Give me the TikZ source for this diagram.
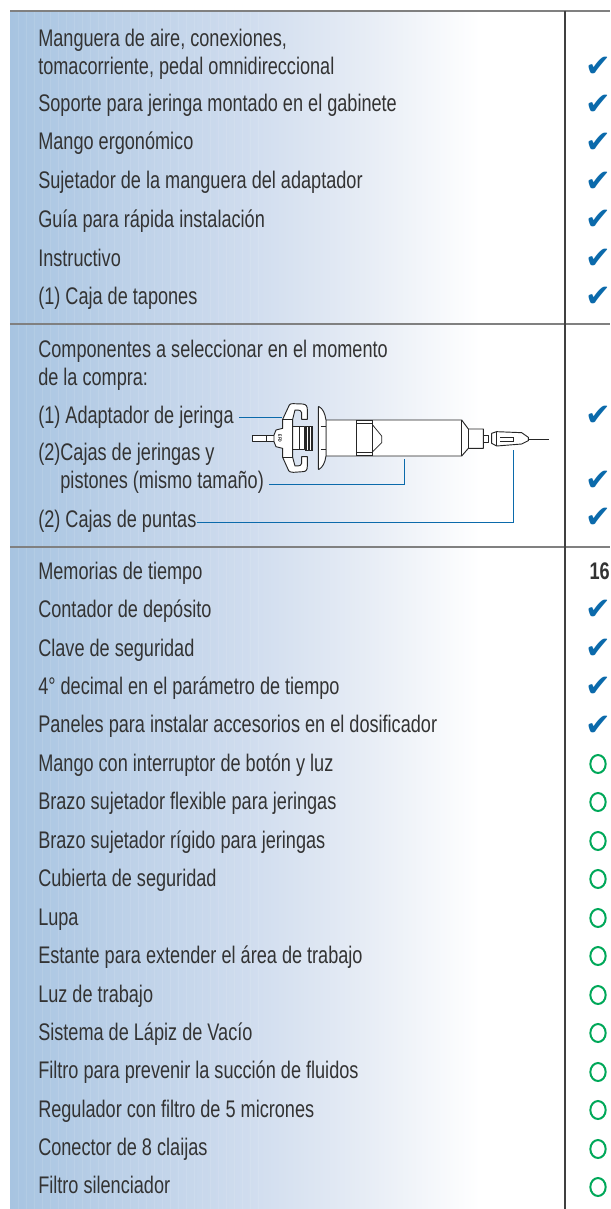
\documentclass[tikz,border=0pt]{standalone}
\usepackage{fontspec}
\setmainfont[FakeStretch=0.755]{Liberation Sans}
\newfontfamily\chkfont{DejaVu Sans}
\usetikzlibrary{shapes.geometric}
\definecolor{txtc}{HTML}{333333}
\definecolor{bluec}{HTML}{0B6AAB}
\definecolor{greenc}{HTML}{00A859}
\definecolor{rulec}{HTML}{808080}
\definecolor{panA}{HTML}{A7C4E1}
\definecolor{panB}{HTML}{BDD1E8}
\definecolor{panC}{HTML}{CFDCEE}
\definecolor{panD}{HTML}{E6ECF5}
\pgfdeclarehorizontalshading{panelshade}{100bp}{
 color(0bp)=(panA); color(25bp)=(panA); color(37.5bp)=(panB); color(50bp)=(panC); color(62.5bp)=(panD); color(75bp)=(white); color(100bp)=(white)}
\tikzset{
 rowlabel/.style={anchor=base west,inner sep=0pt,text=txtc,font=\fontsize{18}{21}\selectfont,align=left},
 checkmark/.style={inner sep=0pt,text=bluec,font=\chkfont\fontsize{23}{23}\selectfont},
 optmark/.style={draw=greenc,line width=1.5pt,ellipse,minimum width=11.5pt,minimum height=13.5pt,inner sep=0pt},
 leader/.style={draw=bluec,line width=0.75pt},
 rulegray/.style={draw=rulec,line width=1pt},
 part/.style={draw=black!85,line width=0.7pt,fill=white,line join=round},
 partline/.style={draw=black!85,line width=0.55pt},
}
\begin{document}
\begin{tikzpicture}[x=0.75pt,y=-0.75pt]
\useasboundingbox (0,0) rectangle (610,1209);
\shade[shading=panelshade] (10,11) rectangle (480,1209);
\foreach \sx in {18,26,...,260}{\draw[white,opacity=0.10,line width=0.5pt] (\sx,11) -- (\sx,1209);}
% rules
\draw[rulegray] (10,11) -- (610,11);
\draw[rulegray] (10,324) -- (610,324);
\draw[rulegray] (10,547) -- (610,547);
\draw[draw=black!75,line width=0.9pt] (565,11) -- (565,1209);
% section 1
\node[rowlabel] (r1) at (38,75) {Manguera de aire, conexiones,\\tomacorriente, pedal omnidireccional};
\node[rowlabel] (r2) at (38,112) {Soporte para jeringa montado en el gabinete};
\node[rowlabel] (r3) at (38,150) {Mango ergonómico};
\node[rowlabel] (r4) at (38,189) {Sujetador de la manguera del adaptador};
\node[rowlabel] (r5) at (38,227) {Guía para rápida instalación};
\node[rowlabel] (r6) at (38,266) {Instructivo};
\node[rowlabel] (r7) at (38,304) {(1) Caja de tapones};
% section 2
\node[rowlabel] (s1) at (38,385) {Componentes a seleccionar en el momento\\de la compra:};
\node[rowlabel] (s2) at (38,423) {(1) Adaptador de jeringa};
\node[rowlabel] (s3) at (38,488) {(2)Cajas de jeringas y\\\hphantom{(2)}pistones (mismo tamaño)};
\node[rowlabel] (s4) at (38,527) {(2) Cajas de puntas};
% section 3
\foreach \i/\yy/\t in {1/579/Memorias de tiempo,2/617/Contador de depósito,3/656/Clave de seguridad,4/694/4° decimal en el parámetro de tiempo,5/732/Paneles para instalar accesorios en el dosificador,6/771/Mango con interruptor de botón y luz,7/809/Brazo sujetador flexible para jeringas,8/848/Brazo sujetador rígido para jeringas,9/886/Cubierta de seguridad,10/925/Lupa,11/963/Estante para extender el área de trabajo,12/1002/Luz de trabajo,13/1040/Sistema de Lápiz de Vacío,14/1078/Filtro para prevenir la succión de fluidos,15/1117/Regulador con filtro de 5 micrones,16/1155/Conector de 8 claijas,17/1193/Filtro silenciador}{
 \node[rowlabel] (t\i) at (38,\yy) {\t};
}
% marks
\foreach \i/\yy in {a/67,b/105,c/143,d/182,e/220,f/259,g/297,h/416,j/481,k/518,l/610,m/649,n/687,o/726}{
 \node[checkmark] (c\i) at (598,\yy) {✔};
}
\node[anchor=base east,inner sep=0pt,text=txtc,font=\bfseries\fontsize{18}{21}\selectfont] (c16) at (610,579) {16};
\foreach \i/\yy in {6/764,7/802,8/841,9/879,10/918,11/956,12/995,13/1033,14/1072,15/1110,16/1149,17/1187}{
 \node[optmark] (o\i) at (598,\yy) {};
}
% syringe (coordinates are those of a 3x crop at 200,380)
\begin{scope}[shift={(200,380)},x=0.25pt,y=-0.25pt]
 % tube
 \draw[part] (158,165) rectangle (222,185);
 \draw[partline] (198,165) -- (198,185);
 % needle
 \draw[draw=black!85,line width=0.7pt] (985,177) -- (1048,177);
 % stem behind the adapter
 \draw[part] (270,140) rectangle (312,208);
 \draw[partline] (298,140) -- (298,208);
 \fill[black!85] (315,137) rectangle (340,212);
 \fill[white] (321,140) rectangle (324,209);
 \fill[white] (331,140) rectangle (333,209);
 % adapter: upper hook, wings, lower hook
 \draw[part] (222,165) -- (228,150) -- (248,145) -- (248,118) -- (268,75) .. controls (270,71) and (275,71) .. (280,71) -- (308,72) .. controls (320,73) and (322,80) .. (322,90) -- (322,118) -- (305,118) -- (305,98) .. controls (305,92) and (300,90) .. (285,90) -- (278,118) -- (278,140) -- (278,208) -- (278,232) -- (285,258) .. controls (300,258) and (305,256) .. (305,250) -- (305,230) -- (322,230) -- (322,258) .. controls (322,270) and (318,275) .. (308,275) -- (280,277) .. controls (272,277) and (268,275) .. (266,272) -- (248,232) -- (248,205) -- (228,200) -- (222,185) -- cycle;
 \draw[partline] (248,118) -- (278,118);
 \draw[partline] (248,232) -- (278,232);
 \node[rotate=-90,inner sep=0pt,font=\fontsize{3.5}{4}\selectfont\bfseries,text=black] (efd) at (240,175) {EFD};
 % barrel
 \draw[part] (378,120) -- (785,120) -- (805,147) -- (850,147) -- (850,205) -- (805,205) -- (785,228) -- (378,228) -- cycle;
 \draw[partline] (785,120) -- (785,228);
 \draw[partline] (805,147) -- (805,205);
 \draw[part] (850,165) rectangle (864,187);
 % flange
 \draw[part] (357,80) .. controls (368,85) and (375,100) .. (378,120) -- (378,228) .. controls (375,248) and (368,262) .. (357,268) -- (355,268) -- (355,80) -- cycle;
 \draw[partline] (362,140) -- (378,140);
 \draw[partline] (362,208) -- (378,208);
 % plunger
 \draw[partline] (470,122) rectangle (518,226);
 \draw[partline] (470,130) -- (518,130);
 \draw[partline] (470,218) -- (518,218);
 \draw[partline] (518,135) -- (545,168) -- (545,188) -- (518,215);
 % tip
 \draw[part] (875,160) -- (890,155) -- (965,158) -- (985,172) -- (985,182) -- (965,192) -- (890,198) -- (875,190) -- cycle;
 \draw[partline] (890,155) -- (890,198);
 \draw[partline] (900,172) -- (940,172) -- (940,184) -- (900,184);
 \coordinate (a1) at (245,112);
 \coordinate (a2) at (612,237);
 \coordinate (a3) at (940,210);
 \coordinate (l2) at (216,313);
 \coordinate (l3) at (0,426);
\end{scope}
% leaders
\coordinate (sy1) at (s2.east |- a1);
\coordinate (sy2) at (s3.east |- l2);
\coordinate (sy3) at (s4.east |- l3);
\draw[leader,shorten <=4pt] (sy1) -- (a1);
\draw[leader,shorten <=4pt] (sy2) -- (a2 |- l2) -- (a2);
\draw[leader] (sy3) -- (a3 |- l3) -- (a3);
\end{tikzpicture}
\end{document}
